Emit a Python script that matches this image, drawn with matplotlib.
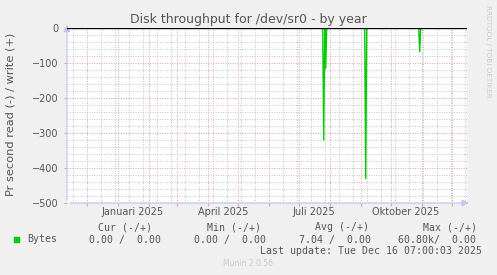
import numpy as np
import pandas as pd
import matplotlib
matplotlib.use("Agg")
import matplotlib.pyplot as plt
import matplotlib.dates as mdates

# data (read side, negative)
spike_dates = ["2025-07-26", "2025-07-28", "2025-09-06", "2025-10-30"]
spike_values = [-320, -115, -430, -68]
start = pd.Timestamp("2024-11-11 07:00")
end = pd.Timestamp("2025-12-16 07:00")
y_ticks = [0, -100, -200, -300, -400, -500]
x_labels = ["Januari 2025", "April 2025", "Juli 2025", "Oktober 2025"]
x_label_dates = ["2025-01-16", "2025-04-16", "2025-07-16", "2025-10-16"]

legend_headers = ["Cur (-/+)", "Min (-/+)", "Avg (-/+)", "Max (-/+)"]
legend_values = ["0.00 /  0.00", "0.00 /  0.00", "7.04 /  0.00", "60.80k/  0.00"]

days = pd.date_range(start.normalize(), end.normalize(), freq="D")
series = pd.Series(0.0, index=days)
for d, v in zip(spike_dates, spike_values):
    series[pd.Timestamp(d)] = v

W, H = 497, 275
fig = plt.figure(figsize=(W / 100, H / 100), dpi=100, facecolor="#F0F0F0")
L, R, T, B = 67, 467, 28, 203
ax = fig.add_axes([L / W, 1 - B / H, (R - L) / W, (B - T) / H])
ax.set_facecolor("white")

ax.set_xlim(start, end)
ax.set_ylim(-500, 0)

# grid
ax.xaxis.set_major_locator(mdates.MonthLocator())
ax.xaxis.set_minor_locator(mdates.WeekdayLocator(byweekday=mdates.SU, interval=2))
ax.set_yticks(y_ticks)
ax.set_yticks(np.arange(-500, 1, 20), minor=True)
ax.grid(which="minor", color="#C4C4C4", linestyle=(0, (1, 1.5)), linewidth=0.7)
ax.grid(which="major", color="#E4A0A0", linestyle=(0, (1, 1.5)), linewidth=0.7)
ax.set_axisbelow(True)

ax.tick_params(axis="x", which="major", length=2, color="#E4A0A0", labelbottom=False)
ax.tick_params(axis="x", which="minor", length=0)
ax.tick_params(axis="y", which="major", length=2, color="#E4A0A0", labelsize=7,
               labelcolor="#555555", pad=4)
ax.tick_params(axis="y", which="minor", length=0)

for s in ax.spines.values():
    s.set_visible(False)

ax.plot(series.index, series.values, color="#00CC00", linewidth=1.0, zorder=3)
ax.axhline(0, color="black", linewidth=1.0, zorder=4)

# axes with arrows
axis_col = "#C4C4F0"
ax.annotate("", xy=(0, 1.035), xytext=(0, 0), xycoords="axes fraction",
            arrowprops=dict(arrowstyle="-|>,head_length=0.4,head_width=0.2",
                            color=axis_col, lw=0.9), annotation_clip=False)
ax.annotate("", xy=(1.012, 0), xytext=(0, 0), xycoords="axes fraction",
            arrowprops=dict(arrowstyle="-|>,head_length=0.4,head_width=0.2",
                            color=axis_col, lw=0.9), annotation_clip=False)

xt = ax.get_xaxis_transform()
for lab, d in zip(x_labels, x_label_dates):
    ax.text(pd.Timestamp(d), -0.05, lab, transform=xt, ha="center", va="center",
            fontsize=7, color="#555555")

fig.text(248 / W, 1 - 19 / H, "Disk throughput for /dev/sr0 - by year", ha="center",
         va="center", fontsize=9, color="#555555")
fig.text(11 / W, 1 - 114 / H, "Pr second read (-) / write (+)", rotation=90,
         ha="center", va="center", fontsize=8.2, color="#555555")
fig.text(488 / W, 1 - 5 / H, "RRDTOOL / TOBI OETIKER", rotation=270, ha="center",
         va="top", fontsize=5.2, color="#CCCCCC")

mono = dict(family="DejaVu Sans Mono", fontsize=7.1, color="#555555", va="center")
fig.patches.append(plt.Rectangle((14 / W, 1 - 242 / H), 5 / W, 5 / H,
                                 transform=fig.transFigure, color="#00CC00"))
fig.text(27 / W, 1 - 239.5 / H, "Bytes", ha="left", **mono)
for hx, h in zip([98, 207, 315, 423], legend_headers):
    fig.text(hx / W, 1 - 227.5 / H, h, ha="left", **mono)
for vx, v in zip([89, 194, 299, 398], legend_values):
    fig.text(vx / W, 1 - 239.5 / H, v, ha="left", **mono)
fig.text(482 / W, 1 - 251 / H, "Last update: Tue Dec 16 07:00:03 2025", ha="right", **mono)
fig.text(248 / W, 1 - 264 / H, "Munin 2.0.56", ha="center", va="center",
         fontsize=5.5, color="#C8C8C8")

fig.savefig("out.png", dpi=100, facecolor=fig.get_facecolor())
